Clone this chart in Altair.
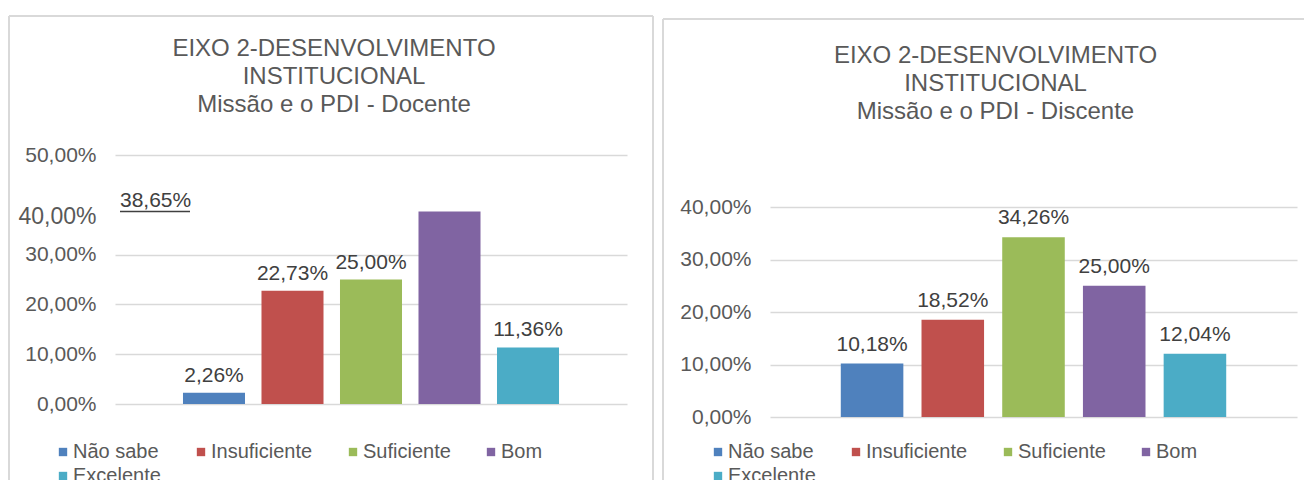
import altair as alt
import pandas as pd

FONT = "Liberation Sans"

categorias = ["Não sabe", "Insuficiente", "Suficiente", "Bom", "Excelente"]
cores = ["#4F81BD", "#C0504D", "#9BBB59", "#8064A2", "#4BACC6"]

docente = [2.26, 22.73, 25.00, 38.65, 11.36]
discente = [10.18, 18.52, 34.26, 25.00, 12.04]

titulo_docente = ["EIXO 2-DESENVOLVIMENTO", "INSTITUCIONAL", "Missão e o PDI - Docente"]
titulo_discente = ["EIXO 2-DESENVOLVIMENTO", "INSTITUCIONAL", "Missão e o PDI - Discente"]

# tick positions / labels as they appear on each axis
ticks_docente = [0, 10, 20, 30, 37.75, 50]
rotulos_docente = ["0,00%", "10,00%", "20,00%", "30,00%", "40,00%", "50,00%"]
ticks_discente = [0, 10, 20, 30, 40]
rotulos_discente = ["0,00%", "10,00%", "20,00%", "30,00%", "40,00%"]

GRID = "#d9d9d9"
TXT = "#595959"
LBL = "#404040"


def label_expr(ticks, rotulos):
    expr = "replace(format(datum.value, '.2f'), '.', ',') + '%'"
    for t, r in zip(ticks, rotulos):
        expr = f"datum.value == {t} ? '{r}' : ({expr})"
    return expr


def odd_ticks(ticks, rotulos):
    return [t for t, r in zip(ticks, rotulos)
            if abs(t - float(r.replace(",", ".").rstrip("%"))) > 1e-9]


def frame_rule(x1, x2, y1, y2):
    return alt.Chart(pd.DataFrame({"k": [0]})).mark_rule(
        color=GRID, strokeWidth=2
    ).encode(x=alt.value(x1), x2=alt.value(x2), y=alt.value(y1), y2=alt.value(y2))


def panel(valores, titulo, ymax, ticks, rotulos, w, h, yrange, pin, pout,
          t_off, t_dx, lx, ly, ldy, frames, separar_bom):
    df = pd.DataFrame({"cat": categorias, "v": valores})
    base = alt.Chart(df).transform_calculate(
        rot="replace(format(datum.v, '.2f'), '.', ',') + '%'"
    )
    odd = odd_ticks(ticks, rotulos)
    axis_kw = dict(
        values=ticks, labelExpr=label_expr(ticks, rotulos), domain=False,
        ticks=False, grid=True, gridColor=GRID, gridWidth=1.5,
        labelFont=FONT, labelColor=TXT, labelPadding=19, title=None,
    )
    if odd:
        test = " || ".join(f"datum.value == {t}" for t in odd)
        axis_kw["gridOpacity"] = {"condition": {"test": test, "value": 0}, "value": 1}
        axis_kw["labelFontSize"] = {"condition": {"test": test, "value": 23}, "value": 21}
    else:
        axis_kw["labelFontSize"] = 21

    x = alt.X("cat:N", sort=categorias,
              scale=alt.Scale(paddingInner=pin, paddingOuter=pout), axis=None)
    y = alt.Y("v:Q", scale=alt.Scale(domain=[0, ymax], nice=False, range=yrange),
              axis=alt.Axis(**axis_kw))

    bars = base.mark_bar().encode(
        x=x, y=y,
        color=alt.Color(
            "cat:N",
            scale=alt.Scale(domain=categorias, range=cores),
            legend=alt.Legend(
                orient="none", legendX=lx, legendY=ly, direction="horizontal",
                columns=4, symbolType="square", symbolSize=70,
                symbolStrokeWidth=0, labelFont=FONT, labelFontSize=20,
                labelColor=TXT, columnPadding=30, rowPadding=4,
                labelOffset=0, padding=0, title=None,
            ),
        ),
    )

    lab_src = base.transform_filter("datum.cat != 'Bom'") if separar_bom else base
    labels = lab_src.mark_text(
        font=FONT, fontSize=21, color=LBL, baseline="middle", dy=ldy
    ).encode(x=x, y=y, text="rot:N")

    layers = [frame_rule(*f) for f in frames] + [bars, labels]

    if separar_bom:
        bom = base.transform_filter("datum.cat == 'Bom'")
        layers.append(
            bom.mark_text(font=FONT, fontSize=21, color=LBL, align="left",
                          baseline="bottom", dy=-1)
            .encode(x=alt.value(5), y=y, text="rot:N")
        )
        layers.append(
            bom.mark_rule(color=LBL, strokeWidth=1.5)
            .encode(x=alt.value(5), x2=alt.value(75), y=y)
        )

    return alt.layer(*layers).properties(
        width=w, height=h,
        title=alt.TitleParams(
            text=titulo, font=FONT, fontSize=24, fontWeight="normal",
            color=TXT, lineHeight=28, anchor="middle", frame="bounds",
            offset=t_off, dx=t_dx,
        ),
    )


left = panel(
    docente, titulo_docente, 50, ticks_docente, rotulos_docente,
    512, 249, [249, 0], 0.21, 0.866, -102, 3, -62, 287, -17,
    [(-106, 538, -139, -139), (-106, -106, -139, 325), (538, 538, -139, 325)],
    True,
)

right = panel(
    discente, titulo_discente, 40, ticks_discente, rotulos_discente,
    527, 262, [262, 52], 0.225, 0.877, -106, 12, -62, 287, -19,
    [(-107, 534, -136, -136), (-107, -107, -136, 325)],
    False,
)

chart = (
    alt.hconcat(left, right, spacing=8)
    .resolve_scale(color="independent", y="independent", x="independent")
    .resolve_legend(color="independent")
    .properties(padding={"left": 0, "right": 0, "top": 7, "bottom": 0})
    .configure_view(strokeWidth=0)
)

chart.save("out.html", embed_options={"renderer": "svg", "actions": False})
